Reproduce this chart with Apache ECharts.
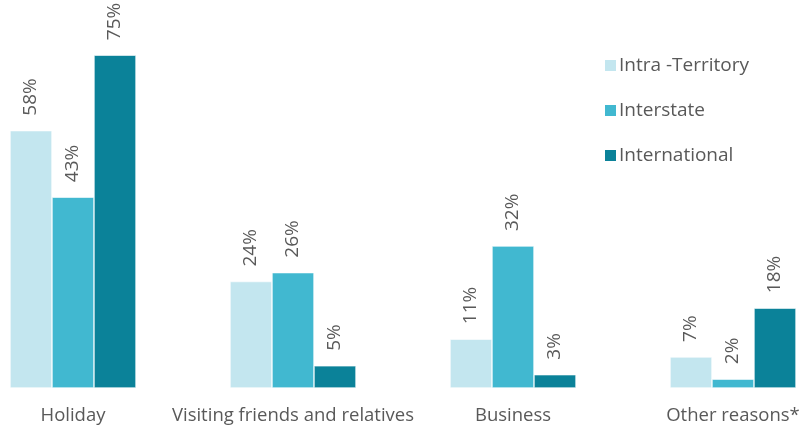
<!DOCTYPE html>
<html><head><meta charset="utf-8">
<script src="https://cdn.jsdelivr.net/npm/echarts@6/dist/echarts.min.js"></script>
<style>html,body{margin:0;padding:0;background:#fff}#c{width:800px;height:430px}</style>
</head><body><div id="c"></div>
<script>
const categories = ['Holiday', 'Visiting friends and relatives', 'Business', 'Other reasons*'];
const seriesNames = ['Intra -Territory', 'Interstate', 'International'];
const intraTerritory = [58, 24, 11, 7];
const interstate = [43, 26, 32, 2];
const international = [75, 5, 3, 18];
const colors = ['#C3E6EF', '#41B8D0', '#0B8299'];
const values = [intraTerritory, interstate, international];

const chart = echarts.init(document.getElementById('c'));
chart.setOption({
  animation: false,
  grid: { left: -37, width: 880, top: 33, bottom: 42, outerBoundsMode: 'none', containLabel: false },
  legend: {
    orient: 'vertical', left: 598, top: 51, itemWidth: 13, itemHeight: 13, itemGap: 26,
    icon: 'rect',
    textStyle: { fontFamily: 'Open Sans', fontSize: 19, color: '#595959', padding: [0,0,0,-3] },
    data: seriesNames
  },
  xAxis: {
    type: 'category', data: categories,
    axisLine: { show: false }, axisTick: { show: false },
    axisLabel: { interval: 0, fontFamily: 'Open Sans', fontSize: 18.5, color: '#595959', margin: 18 }
  },
  yAxis: { type: 'value', min: 0, max: 80, show: false, splitLine: { show: false } },
  series: values.map((v, i) => ({
    name: seriesNames[i], type: 'bar', data: v, barWidth: 42, barGap: '0%',
    itemStyle: { color: colors[i], borderColor: '#fff', borderWidth: 0.6 },
    label: {
      show: true, position: 'top', rotate: 90, align: 'left', verticalAlign: 'middle', distance: 15,
      formatter: '{c}%', fontFamily: 'Open Sans', fontSize: 19, color: '#595959'
    }
  }))
});
</script></body></html>
